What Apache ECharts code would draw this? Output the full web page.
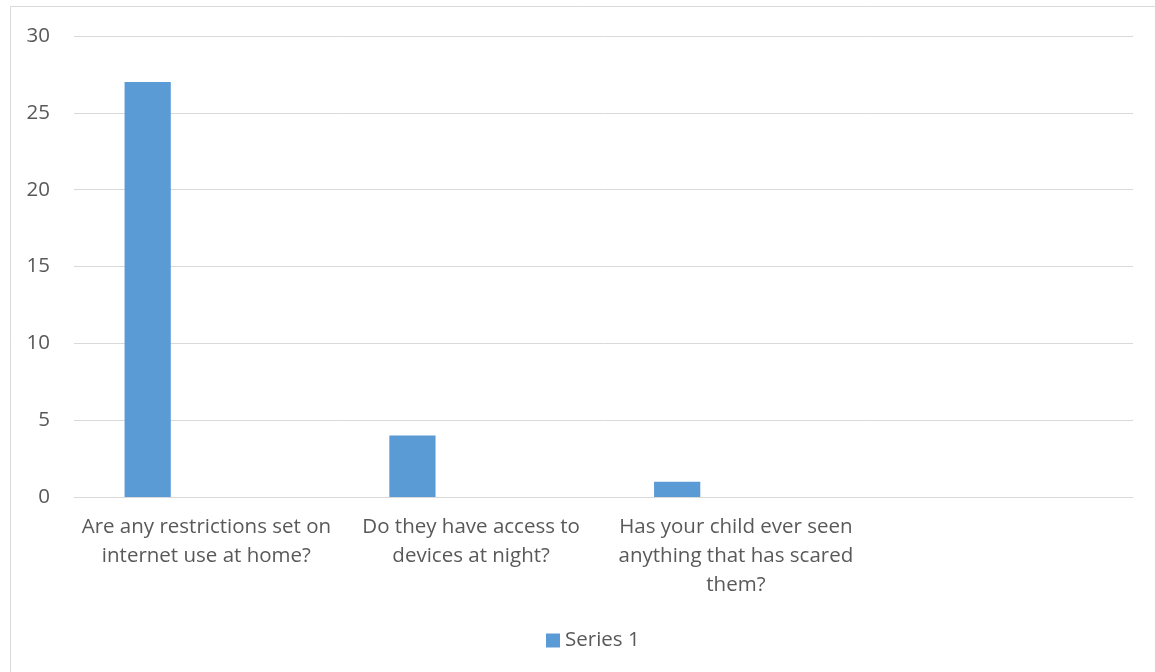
<!DOCTYPE html>
<html><head><meta charset="utf-8">
<script src="https://cdn.jsdelivr.net/npm/echarts@6/dist/echarts.min.js"></script>
<style>html,body{margin:0;padding:0;background:#fff;}#c{width:1155px;height:672px;}</style>
</head><body><div id="c"></div>
<script>
const categories = ['Are any restrictions set on\ninternet use at home?', 'Do they have access to\ndevices at night?', 'Has your child ever seen\nanything that has scared\nthem?', ''];
const series1 = [27, 4, 1, null];
const series2 = [null, null, null, null];
const series3 = [null, null, null, null];
const yTicks = {min: 0, max: 30, interval: 5};

const font = 'Open Sans';
const chart = echarts.init(document.getElementById('c'), null, {renderer: 'canvas'});
chart.setOption({
  animation: false,
  backgroundColor: '#fff',
  textStyle: {fontFamily: font},
  graphic: [{type: 'rect', shape: {x: 10.5, y: 6.5, width: 1300, height: 800}, style: {fill: 'none', stroke: '#d9d9d9', lineWidth: 1}, silent: true}],
  grid: {left: 74, right: 22, top: 36, bottom: 175, containLabel: false},
  legend: {data: ['Series 1'], left: 541, top: 625, itemWidth: 14, itemHeight: 14, itemGap: 6, icon: 'rect',
    textStyle: {fontFamily: font, fontSize: 20.5, color: '#595959'}},
  xAxis: {type: 'category', data: categories,
    axisLine: {lineStyle: {color: '#d9d9d9', width: 1}}, axisTick: {show: false},
    axisLabel: {interval: 0, fontFamily: font, fontSize: 20.5, color: '#595959', lineHeight: 29, margin: 16}},
  yAxis: {type: 'value', min: yTicks.min, max: yTicks.max, interval: yTicks.interval,
    axisLine: {show: false}, axisTick: {show: false},
    splitLine: {lineStyle: {color: '#d9d9d9', width: 1}},
    axisLabel: {fontFamily: font, fontSize: 20.5, color: '#595959', margin: 24}},
  series: [
    {name: 'Series 1', type: 'bar', data: series1, itemStyle: {color: '#5b9bd5'}, barGap: '27%', barCategoryGap: '38.2%'},
    {name: 'Series 2', type: 'bar', data: series2, itemStyle: {color: '#ed7d31'}},
    {name: 'Series 3', type: 'bar', data: series3, itemStyle: {color: '#a5a5a5'}}
  ]
});
</script></body></html>
